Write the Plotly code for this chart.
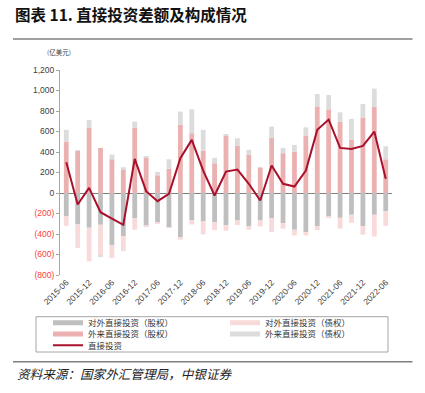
import plotly.graph_objects as go

# ---------------- data ----------------
quarters = ["2015-06", "2015-09", "2015-12", "2016-03", "2016-06", "2016-09", "2016-12",
            "2017-03", "2017-06", "2017-09", "2017-12", "2018-03", "2018-06", "2018-09",
            "2018-12", "2019-03", "2019-06", "2019-09", "2019-12", "2020-03", "2020-06",
            "2020-09", "2020-12", "2021-03", "2021-06", "2021-09", "2021-12", "2022-03",
            "2022-06"]

tick_labels = ["2015-06", "2015-12", "2016-06", "2016-12", "2017-06", "2017-12", "2018-06",
               "2018-12", "2019-06", "2019-12", "2020-06", "2020-12", "2021-06", "2021-12",
               "2022-06"]

# 对外直接投资（股权）
outward_equity = [-229, -307, -339, -310, -511, -420, -248, -320, -290, -336, -430, -268, -278,
                  -284, -313, -268, -323, -268, -245, -294, -358, -382, -323, -229, -242, -212,
                  -323, -212, -177]
# 对外直接投资（债权）
outward_debt = [-91, -230, -328, -295, -124, -147, -110, -5, -5, -3, -26, -39, -126, -78, -55,
                -45, -35, -58, -137, -55, -56, -32, -39, -13, -107, -78, -84, -212, -143]
# 外来直接投资（股权）
inward_equity = [500, 414, 635, 440, 329, 232, 635, 349, 173, 236, 664, 583, 414, 290, 560, 463,
                 372, 245, 540, 388, 404, 557, 845, 816, 693, 518, 738, 840, 329]
# 外来直接投资（债权）
inward_debt = [116, 5, 78, -20, 46, 19, 61, 3, 33, 93, 130, 233, 202, 53, 10, 71, 49, 7, 108, 52,
               65, 84, 121, 140, 94, 205, 131, 178, 127]
# 直接投资
direct_investment = [300, -112, 50, -187, -250, -310, 333, 18, -80, -8, 340, 518, 219, -24, 209,
                     229, 90, -73, 268, 90, 63, 219, 616, 716, 440, 430, 460, 599, 138]

y_tick_values = [-800, -600, -400, -200, 0, 200, 400, 600, 800, 1000, 1200]
y_tick_labels = ["(800)", "(600)", "(400)", "(200)", "0", "200", "400", "600", "800", "1,000",
                 "1,200"]

# ---------------- style ----------------
W, H = 425, 393
L, R, T, B = 60, 33, 70, 118
PW, PH = W - L - R, H - T - B

C_OUT_EQ = "#BFBFBF"
C_OUT_DEBT = "#F9DADA"
C_IN_EQ = "#EBB0B0"
C_IN_DEBT = "#DCDCDC"
C_LINE = "#A8102C"
NEG_RED = "#FF3B3B"

CJK = "Noto Sans CJK SC"
LAT = "Liberation Sans, Arial, sans-serif"


def px_x(p):
    return (p - L) / PW


def px_y(p):
    return (H - B - p) / PH


fig = go.Figure()

# (name, values, colour, legend id, legend text-start x px, legend row centre y px)
series = [
    ("对外直接投资（股权）", outward_equity, C_OUT_EQ, "legend", 88, 322.7),
    ("对外直接投资（债权）", outward_debt, C_OUT_DEBT, "legend2", 265, 322.7),
    ("外来直接投资（股权）", inward_equity, C_IN_EQ, "legend3", 88, 334),
    ("外来直接投资（债权）", inward_debt, C_IN_DEBT, "legend4", 265, 334),
]

for name, vals, col, lg, lx, ly in series:
    fig.add_trace(go.Bar(x=quarters, y=vals, name=name, marker=dict(color=col, line=dict(width=0)),
                         showlegend=False, legendgroup=name))

for name, vals, col, lg, lx, ly in series:
    fig.add_trace(go.Scatter(x=[None], y=[None], mode="lines", name=name, legend=lg,
                             line=dict(color=col, width=5), legendgroup=name, showlegend=True))

fig.add_trace(go.Scatter(x=quarters, y=direct_investment, mode="lines", name="直接投资",
                         line=dict(color=C_LINE, width=2), legend="legend5"))

ticktext = []
for v, t in zip(y_tick_values, y_tick_labels):
    if v < 0:
        ticktext.append(f"<span style='color:{NEG_RED}'>{t}</span>")
    else:
        ticktext.append(t)

legend_common = dict(orientation="v", xref="paper", yref="paper", xanchor="left",
                     yanchor="middle", itemwidth=30,
                     bgcolor="rgba(0,0,0,0)", font=dict(family=CJK, size=8.5, color="#333333"),
                     itemclick=False, itemdoubleclick=False)

TEXT_OFFSET = 40  # px from legend left edge to text start
legend_pos = {lg: (lx, ly) for _, _, _, lg, lx, ly in series}
legend_pos["legend5"] = (88, 345.3)

legends = {}
for lg, (lx, ly) in legend_pos.items():
    legends[lg] = dict(legend_common, x=px_x(lx - TEXT_OFFSET), y=px_y(ly))

fig.update_layout(
    width=W, height=H,
    margin=dict(l=L, r=R, t=T, b=B, pad=0, autoexpand=False),
    paper_bgcolor="white", plot_bgcolor="white",
    barmode="relative", bargap=0.58,
    font=dict(family=LAT, size=8.5, color="#404040"),
    title=dict(text="图表 11. 直接投资差额及构成情况", x=15 / W, xref="container", xanchor="left",
               y=1 - 16 / H, yref="container", yanchor="middle",
               font=dict(family=CJK, size=15.5, color="#111111", weight="bold")),
    xaxis=dict(type="category", range=[-0.55, len(quarters) - 0.45], tickmode="array",
               tickvals=tick_labels, ticktext=tick_labels, tickangle=-45, showline=False,
               showgrid=False, zeroline=False, ticks="", tickfont=dict(family=LAT, size=8.5,
                                                                       color="#404040")),
    yaxis=dict(range=[-800, 1200], tickmode="array", tickvals=y_tick_values, ticktext=ticktext,
               showgrid=False, zeroline=True, zerolinecolor="#7F7F7F", zerolinewidth=1,
               showline=True, linecolor="#A6A6A6", linewidth=1, ticks="outside", ticklen=3,
               tickcolor="#A6A6A6", tickfont=dict(family=LAT, size=8.5, color="#404040")),
    annotations=[
        dict(text="(亿美元)", xref="paper", yref="paper", x=px_x(45), y=px_y(52),
             xanchor="left", yanchor="middle", showarrow=False,
             font=dict(family=CJK, size=6.5, color="#404040")),
        dict(text="资料来源：国家外汇管理局，中银证券", xref="paper", yref="paper", x=px_x(15),
             y=px_y(373), xanchor="left", yanchor="middle", showarrow=False,
             font=dict(family=CJK, size=12.6, color="#222222", style="italic")),
    ],
    shapes=[
        dict(type="line", xref="paper", yref="paper", x0=px_x(13), x1=px_x(412.5), y0=px_y(39),
             y1=px_y(39), line=dict(color="#7F7F7F", width=1.5)),
        dict(type="line", xref="paper", yref="paper", x0=px_x(13), x1=px_x(412.5),
             y0=px_y(361.7), y1=px_y(361.7), line=dict(color="#7F7F7F", width=1.5)),
        dict(type="rect", xref="paper", yref="paper", x0=px_x(36), x1=px_x(388), y0=px_y(316.7),
             y1=px_y(352), line=dict(color="#A6A6A6", width=1), fillcolor="rgba(0,0,0,0)"),
    ],
    **legends,
)

fig.write_html("out.html", config={"displayModeBar": False},
               post_script="document.body.style.margin='0px';")
